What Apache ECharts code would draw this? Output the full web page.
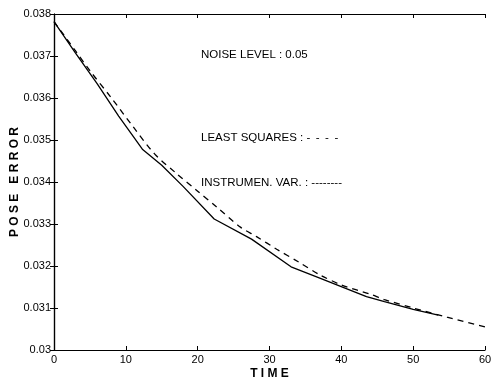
<!DOCTYPE html>
<html>
<head>
<meta charset="utf-8">
<script src="https://cdn.jsdelivr.net/npm/echarts@6/dist/echarts.min.js"></script>
<style>
  html, body { margin: 0; padding: 0; background: #fff; }
  #chart { width: 491px; height: 377px; }
</style>
</head>
<body>
<div id="chart"></div>
<script>
// Pose error over time for two estimators (noise level 0.05)
const timeTicks = [0, 10, 20, 30, 40, 50, 60];
const errorTicks = [0.030, 0.031, 0.032, 0.033, 0.034, 0.035, 0.036, 0.037, 0.038];

// Instrumental variable estimate (solid)
const ivTime  = [0, 3, 6, 9, 12.3, 15, 18, 22.3, 27.5, 33, 37, 43.5, 46, 50, 53.5];
const ivError = [0.03782, 0.03707, 0.03634, 0.03557, 0.03478, 0.03440, 0.03389, 0.03312,
                 0.03264, 0.03198, 0.03171, 0.03127, 0.03115, 0.03097, 0.03083];

// Least squares estimate (dashed)
const lsTime  = [0, 3, 5, 8, 11, 14, 17, 20, 22.6, 26, 28.2, 31, 34, 37, 40, 44, 46, 50, 54.7, 60];
const lsError = [0.03782, 0.03712, 0.03665, 0.03600, 0.03532, 0.03467, 0.03421, 0.03378, 0.03341,
                 0.03292, 0.03270, 0.03240, 0.03210, 0.03179, 0.03155, 0.03133, 0.03120, 0.03100,
                 0.03078, 0.03055];

const pair = (xs, ys) => xs.map((x, i) => [x, ys[i]]);

const FONT = 'Liberation Sans';
const chart = echarts.init(document.getElementById('chart'));

const axisLine = { show: true, lineStyle: { color: '#000', width: 1.2 } };
const tick = { show: true, inside: true, length: 4, lineStyle: { color: '#000', width: 1 } };
const noteFont = '11.5px "Liberation Sans"';

chart.setOption({
  animation: false,
  backgroundColor: '#fff',
  grid: { left: 54, right: 6, top: 14, bottom: 27, containLabel: false, outerBoundsMode: 'none' },
  xAxis: [
    {
      type: 'value', min: 0, max: 60, interval: 10,
      axisLine, axisTick: tick, splitLine: { show: false },
      axisLabel: { color: '#000', fontFamily: FONT, fontSize: 11, margin: 4,
                   formatter: v => timeTicks.includes(v) ? String(v) : '' },
      name: 'T I M E', nameLocation: 'middle', nameGap: 18, nameMoveOverlap: false,
      nameTextStyle: { color: '#000', fontFamily: FONT, fontSize: 12, fontWeight: 'bold' }
    },
    {
      type: 'value', position: 'top', min: 0, max: 60, interval: 10,
      axisLine, axisTick: tick, axisLabel: { show: false }, splitLine: { show: false }
    }
  ],
  yAxis: [
    {
      type: 'value', min: 0.030, max: 0.038, interval: 0.001,
      axisLine, axisTick: tick, splitLine: { show: false },
      axisLabel: { color: '#000', fontFamily: FONT, fontSize: 11, margin: 3,
                   formatter: v => {
                     const t = errorTicks.find(e => Math.abs(e - v) < 1e-9);
                     return t === undefined ? '' : (t === 0.03 ? '0.03' : t.toFixed(3));
                   } },
      name: 'P O S E   E R R O R', nameLocation: 'middle', nameGap: 33, nameMoveOverlap: false,
      nameTextStyle: { color: '#000', fontFamily: FONT, fontSize: 12, fontWeight: 'bold' }
    },
    {
      type: 'value', position: 'right', min: 0.030, max: 0.038, interval: 0.001,
      axisLine, axisTick: tick, axisLabel: { show: false }, splitLine: { show: false }
    }
  ],
  series: [
    {
      name: 'INSTRUMEN. VAR.', type: 'line', data: pair(ivTime, ivError),
      showSymbol: false, lineStyle: { color: '#000', width: 1.3 }
    },
    {
      name: 'LEAST SQUARES', type: 'line', data: pair(lsTime, lsError), smooth: 0.3,
      showSymbol: false, lineStyle: { color: '#000', width: 1.3, type: [6, 5] }
    }
  ],
  graphic: [
    { type: 'text', left: 201, top: 49,
      style: { text: 'NOISE LEVEL : 0.05', fill: '#000', font: noteFont } },
    { type: 'text', left: 201, top: 132,
      style: { text: 'LEAST SQUARES : - \u2009- \u2009- \u2009-', fill: '#000', font: noteFont } },
    { type: 'text', left: 201, top: 177,
      style: { text: 'INSTRUMEN. VAR. : --------', fill: '#000', font: noteFont } }
  ]
});
</script>
</body>
</html>
